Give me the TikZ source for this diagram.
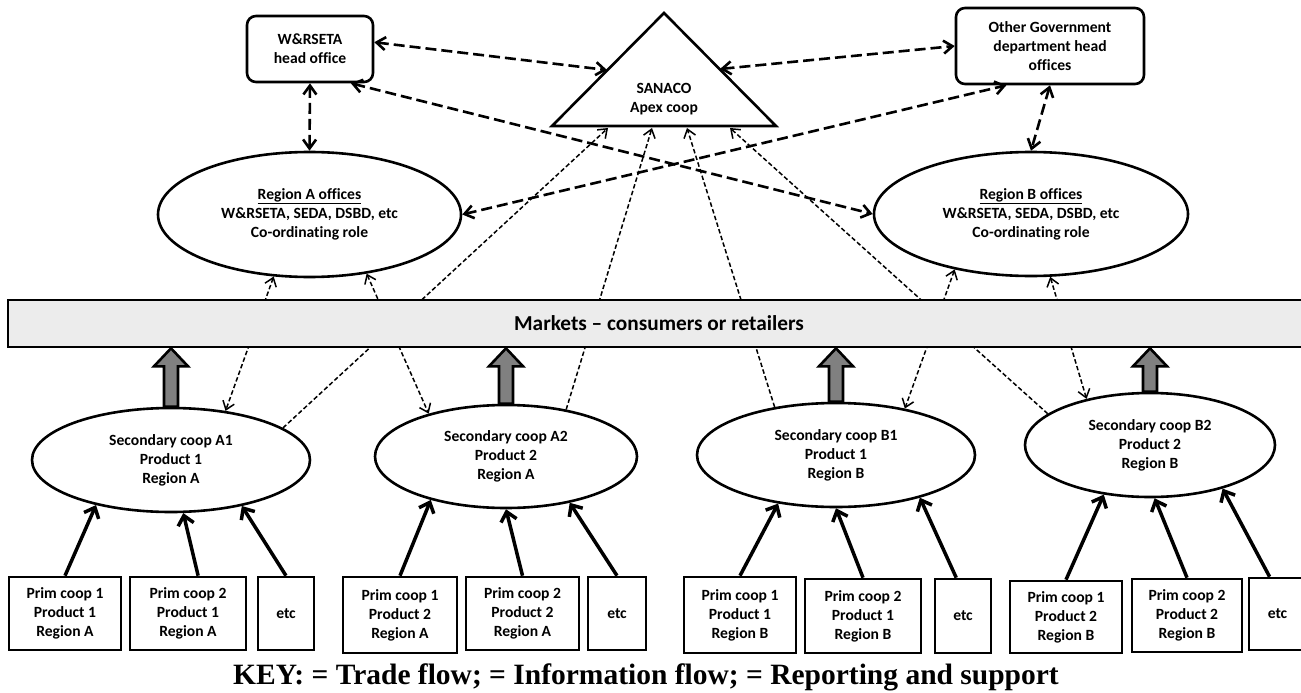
\documentclass[tikz,border=0pt]{standalone}
\usepackage{fontspec}
\setmainfont{Carlito}[Ligatures=NoCommon]
\newfontfamily\keyfont{Liberation Serif}
\usetikzlibrary{arrows.meta, calc, shapes.geometric}

\tikzset{
  lbl/.style={font=\fontsize{15.6pt}{19pt}\selectfont\bfseries, align=center},
  office/.style={draw, ellipse, line width=2.6pt, inner sep=0pt, lbl},
  coop/.style={draw, ellipse, line width=2.6pt, inner sep=0pt, lbl},
  prim/.style={draw, rectangle, line width=2.6pt, inner sep=0pt, lbl},
  head/.style={prim, rounded corners=9pt},
  market/.style={draw, rectangle, line width=2.6pt, fill=gray!15, inner sep=0pt,
    font=\fontsize{21.3pt}{25pt}\selectfont\bfseries},
  info/.style={line width=2.6pt, dash pattern=on 11pt off 5pt,
    {Straight Barb[length=9pt,width=13pt]}-{Straight Barb[length=9pt,width=13pt]}},
  report/.style={line width=1.5pt, dash pattern=on 4.5pt off 2.5pt,
    {Straight Barb[length=8pt,width=12pt]}-{Straight Barb[length=8pt,width=12pt]}},
  toapex/.style={line width=1.5pt, dash pattern=on 4.5pt off 2.5pt,
    -{Straight Barb[length=8pt,width=12pt]}},
  trade/.style={line width=3.5pt, -{Straight Barb[length=9pt,width=16pt]}},
  bulk/.style={draw, line width=2.6pt, fill=gray, line join=miter},
}

% fat grey arrow from a coop up to the market bar
\newcommand{\bulkflow}[2]{%
  \draw[bulk] let \p1=(#1.north), \p2=(#2.south) in
    (\x1-7pt,\y1) -- (\x1-7pt,\y2-18pt) -- (\x1-17pt,\y2-18pt) -- (\x1,\y2)
    -- (\x1+17pt,\y2-18pt) -- (\x1+7pt,\y2-18pt) -- (\x1+7pt,\y1) -- cycle;}

\begin{document}
\begin{tikzpicture}[x=1pt, y=-1pt]
  \clip (0,0) rectangle (1301,693);

  % head offices and apex
  \node[head, minimum width=126pt, minimum height=66pt] (hq) at (310,49) {W\&RSETA\\head office};
  \node[head, minimum width=188pt, minimum height=76pt] (ogov) at (1050,46) {Other Government\\department head\\offices};
  \coordinate (apexL) at (552,126);
  \coordinate (apexT) at (664,13);
  \coordinate (apexR) at (776,126);
  \draw[line width=2.6pt, line join=miter] (apexL) -- (apexT) -- (apexR) -- cycle;
  \node[lbl] (sanaco) at (664,99) {SANACO\\Apex coop};
  \coordinate (sideW) at (607,70);
  \coordinate (sideE) at (720,69);
  \coordinate (foot1) at (608,128);
  \coordinate (foot2) at (652,128);
  \coordinate (foot3) at (687,128);
  \coordinate (foot4) at (730,128);

  % regional offices
  \node[office, minimum width=303pt, minimum height=125pt] (rega) at (309.5,214.5)
    {\underline{Region A offices}\\W\&RSETA, SEDA, DSBD, etc\\Co-ordinating role};
  \node[office, minimum width=314pt, minimum height=124pt] (regb) at (1031,214)
    {\underline{Region B offices}\\W\&RSETA, SEDA, DSBD, etc\\Co-ordinating role};

  % secondary coops
  \node[coop, minimum width=278pt, minimum height=104pt] (secA1) at (171,460) {Secondary coop A1\\Product 1\\Region A};
  \node[coop, minimum width=262pt, minimum height=103pt] (secA2) at (506,456.5) {Secondary coop A2\\Product 2\\Region A};
  \node[coop, minimum width=278pt, minimum height=104pt] (secB1) at (836,455) {Secondary coop B1\\Product 1\\Region B};
  \node[coop, minimum width=250pt, minimum height=104pt] (secB2) at (1150,445) {Secondary coop B2\\Product 2\\Region B};

  % primary coops
  \node[prim, minimum width=112pt, minimum height=73pt] (pA1a) at (65,613.5) {Prim coop 1\\Product 1\\Region A};
  \node[prim, minimum width=116pt, minimum height=73pt] (pA1b) at (188,613.5) {Prim coop 2\\Product 1\\Region A};
  \node[prim, minimum width=56pt, minimum height=73pt] (pA1c) at (286,613.5) {etc};
  \node[prim, minimum width=114pt, minimum height=76pt] (pA2a) at (400,615) {Prim coop 1\\Product 2\\Region A};
  \node[prim, minimum width=113pt, minimum height=73pt] (pA2b) at (522.5,613.5) {Prim coop 2\\Product 2\\Region A};
  \node[prim, minimum width=58pt, minimum height=73pt] (pA2c) at (617,613.5) {etc};
  \node[prim, minimum width=112pt, minimum height=76pt] (pB1a) at (740,615) {Prim coop 1\\Product 1\\Region B};
  \node[prim, minimum width=116pt, minimum height=74pt] (pB1b) at (863,616) {Prim coop 2\\Product 1\\Region B};
  \node[prim, minimum width=56pt, minimum height=74pt] (pB1c) at (963,616) {etc};
  \node[prim, minimum width=112pt, minimum height=72pt] (pB2a) at (1066,617) {Prim coop 1\\Product 2\\Region B};
  \node[prim, minimum width=110pt, minimum height=73pt] (pB2b) at (1187,615.5) {Prim coop 2\\Product 2\\Region B};
  \node[prim, minimum width=57pt, minimum height=72pt] (pB2c) at (1277.5,614) {etc};

  % information flow
  \draw[info] (hq.6) -- (sideW);
  \draw[info] (sideE) -- (ogov.west);
  \draw[info] (hq.south) -- (rega.north);
  \draw[info] (ogov.south) -- (regb.north);
  \draw[info] (hq.320) -- (regb.west);
  \draw[info] (rega.east) -- (ogov.222);

  % reporting and support
  \draw[report] (rega.240) -- (secA1.42);
  \draw[report] (rega.314) -- (secA2.151);
  \draw[report] (regb.216) -- (secB1.34);
  \draw[report] (regb.287) -- (secB2.144);
  \draw[toapex] (secA1.16) -- (foot1);
  \draw[toapex] (secA2.38) -- (foot2);
  \draw[toapex] (secB1.142) -- (foot3);
  \draw[toapex] (secB2.163) -- (foot4);

  % market bar goes over the thin lines
  \node[market, minimum width=1302pt, minimum height=47pt] (mkt) at (659,323.5) {Markets – consumers or retailers};
  \bulkflow{secA1}{mkt}
  \bulkflow{secA2}{mkt}
  \bulkflow{secB1}{mkt}
  \bulkflow{secB2}{mkt}

  % trade flow
  \draw[trade] (pA1a.north) -- (secA1.211);
  \draw[trade] (pA1b.75) -- (secA1.283);
  \draw[trade] (pA1c.north) -- (secA1.327);
  \draw[trade] (pA2a.north) -- (secA2.210);
  \draw[trade] (pA2b.north) -- (secA2.270);
  \draw[trade] (pA2c.north) -- (secA2.324);
  \draw[trade] (pB1a.north) -- (secB1.220);
  \draw[trade] (pB1b.north) -- (secB1.270);
  \draw[trade] (pB1c.100) -- (secB1.333);
  \draw[trade] (pB2a.north) -- (secB2.227);
  \draw[trade] (pB2b.north) -- (secB2.275);
  \draw[trade] (pB2c.102) -- (secB2.329);

  \node[font=\keyfont\bfseries\fontsize{29.5pt}{33pt}\selectfont, anchor=base] (key) at (646,684)
    {KEY: = Trade flow; = Information flow; = Reporting and support};
\end{tikzpicture}
\end{document}
